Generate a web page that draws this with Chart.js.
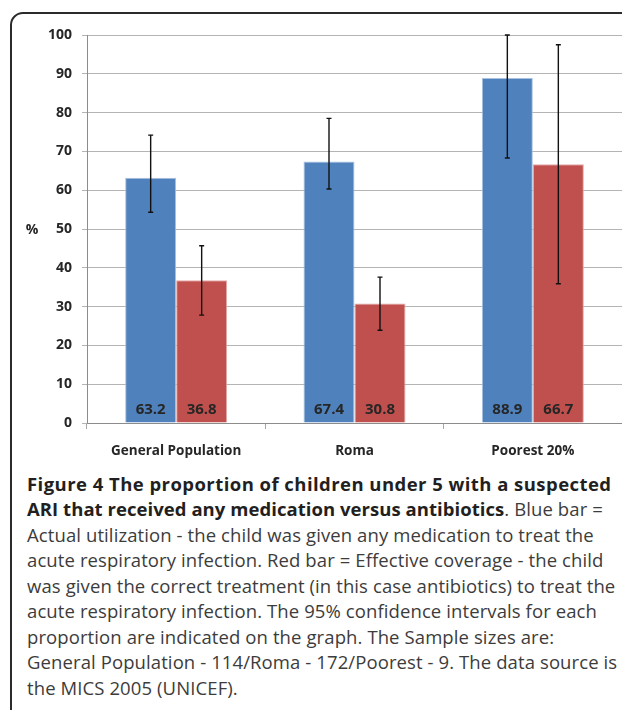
<!DOCTYPE html>
<html>
<head>
<meta charset="utf-8">
<script src="https://cdn.jsdelivr.net/npm/chart.js@4"></script>
<style>
  html, body { margin: 0; padding: 0; background: #fff; }
  #wrap { position: relative; width: 622px; height: 710px; overflow: hidden; }
  #frame {
    position: absolute; left: 10px; top: 12px; width: 700px; height: 800px;
    border: 2px solid #2b2b2b; border-top-left-radius: 13px; box-sizing: border-box;
  }
  #chartBox { position: absolute; left: 0; top: 0; width: 622px; height: 470px; }
  #caption {
    position: absolute; left: 27px; top: 471px; white-space: nowrap;
    font-family: "Open Sans", sans-serif; font-size: 18.5px; line-height: 25.45px;
    letter-spacing: 0.1px; color: #3c3c3c;
  }
  #caption b { color: #231f20; letter-spacing: 0.45px; }
  #caption b.tight { letter-spacing: 0.05px; }
</style>
</head>
<body>
<div id="wrap">
  <div id="frame"></div>
  <div id="chartBox"><canvas id="ariChart" width="622" height="470"></canvas></div>
  <div id="caption">
    <b>Figure 4 The proportion of children under 5 with a suspected</b><br>
    <b class="tight">ARI that received any medication versus antibiotics</b>. Blue bar =<br>
    Actual utilization - the child was given any medication to treat the<br>
    acute respiratory infection. Red bar = Effective coverage - the child<br>
    was given the correct treatment (in this case antibiotics) to treat the<br>
    acute respiratory infection. The 95% confidence intervals for each<br>
    proportion are indicated on the graph. The Sample sizes are:<br>
    General Population - 114/Roma - 172/Poorest - 9. The data source is<br>
    the MICS 2005 (UNICEF).
  </div>
</div>
<script>
// du lieu doc tu hinh
const categories = ['General Population', 'Roma', 'Poorest 20%'];
const actualUtilization = [63.2, 67.4, 88.9];
const effectiveCoverage = [36.8, 30.8, 66.7];
const actualLow = [54.3, 60.3, 68.3];
const actualHigh = [74.2, 78.5, 100];
const effectiveLow = [27.8, 23.9, 35.9];
const effectiveHigh = [45.7, 37.6, 97.5];
const yTicks = [0, 10, 20, 30, 40, 50, 60, 70, 80, 90, 100];

const errorBounds = [
  { low: actualLow, high: actualHigh },
  { low: effectiveLow, high: effectiveHigh }
];

// ve thanh sai so + nhan gia tri o chan cot
const barExtras = {
  id: 'barExtras',
  afterDatasetsDraw(chart) {
    const ctx = chart.ctx;
    const y = chart.scales.y;
    ctx.save();
    chart.data.datasets.forEach((ds, i) => {
      const meta = chart.getDatasetMeta(i);
      meta.data.forEach((bar, j) => {
        const top = y.getPixelForValue(errorBounds[i].high[j]);
        const bot = y.getPixelForValue(errorBounds[i].low[j]);
        ctx.strokeStyle = '#111';
        ctx.lineWidth = 1.4;
        ctx.beginPath();
        ctx.moveTo(bar.x, top); ctx.lineTo(bar.x, bot);
        ctx.moveTo(bar.x - 2.5, top); ctx.lineTo(bar.x + 2.5, top);
        ctx.moveTo(bar.x - 2.5, bot); ctx.lineTo(bar.x + 2.5, bot);
        ctx.stroke();

        ctx.fillStyle = '#262626';
        ctx.font = 'bold 15px "Open Sans"';
        ctx.textAlign = 'center';
        ctx.textBaseline = 'middle';
        ctx.fillText(ds.data[j].toFixed(1), bar.x, y.getPixelForValue(0) - 13);
      });
    });
    // nhan truc y "%"
    ctx.fillStyle = '#262626';
    ctx.font = 'bold 14px "Open Sans"';
    ctx.textAlign = 'center';
    ctx.textBaseline = 'middle';
    ctx.fillText('%', 32, 230);
    ctx.restore();
  }
};

const data = {
  labels: categories,
  datasets: [
    {
      label: 'Actual utilization',
      data: actualUtilization,
      backgroundColor: '#4f81bd',
      borderColor: '#a9c1e0',
      borderWidth: 1
    },
    {
      label: 'Effective coverage',
      data: effectiveCoverage,
      backgroundColor: '#c0504d',
      borderColor: '#e3a9a7',
      borderWidth: 1
    }
  ]
};

const config = {
  type: 'bar',
  data: data,
  options: {
    responsive: false,
    animation: false,
    events: [],
    layout: { padding: { top: 35, left: 0, right: 0, bottom: 0 } },
    datasets: { bar: { categoryPercentage: 0.572, barPercentage: 1.0 } },
    plugins: { legend: { display: false }, tooltip: { enabled: false } },
    scales: {
      x: {
        afterFit(scale) { scale.height = 47; },
        grid: { display: true, drawOnChartArea: false, drawTicks: true, tickLength: 6, offset: true, color: '#a6a6a6' },
        border: { display: true, color: '#8c8c8c' },
        ticks: { color: '#262626', font: { family: 'Open Sans', size: 13.5, weight: 'bold' }, padding: 14 }
      },
      y: {
        min: 0,
        max: 100,
        afterFit(scale) { scale.width = 87; },
        afterBuildTicks(scale) { scale.ticks = yTicks.map(v => ({ value: v })); },
        grid: { color: '#b4b4b4', lineWidth: 1, tickLength: 5 },
        border: { display: true, color: '#8c8c8c' },
        ticks: { color: '#262626', font: { family: 'Open Sans', size: 14, weight: 'bold' }, padding: 10 }
      }
    }
  },
  plugins: [barExtras]
};

document.addEventListener('DOMContentLoaded', function() {
  const el = document.getElementById('ariChart');
  if (el) {
    new Chart(el, config);
  }
});
</script>
</body>
</html>
